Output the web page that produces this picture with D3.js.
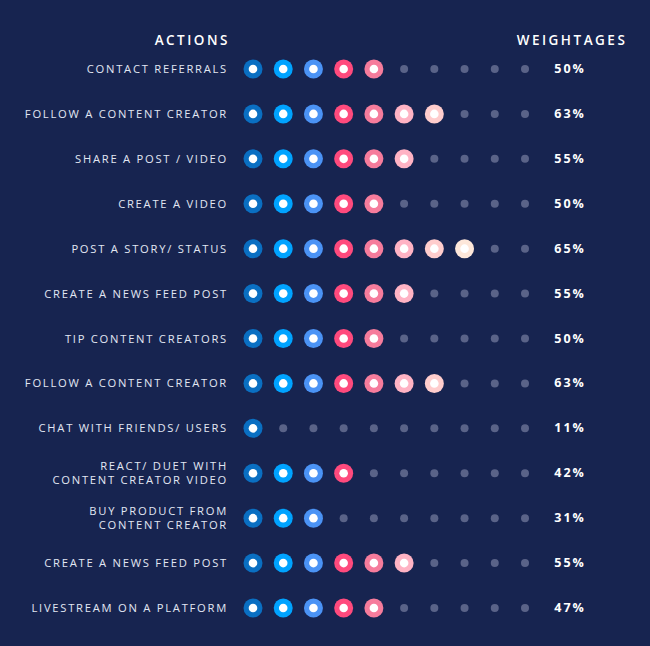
<!DOCTYPE html>
<html>
<head>
<meta charset="utf-8">
<script src="https://cdn.jsdelivr.net/npm/d3@7"></script>
<style>
  body { margin: 0; background: #172450; }
  svg { display: block; }
</style>
</head>
<body>
<script>
// data
const actions = [
  ["CONTACT REFERRALS"],
  ["FOLLOW A CONTENT CREATOR"],
  ["SHARE A POST / VIDEO"],
  ["CREATE A VIDEO"],
  ["POST A STORY/ STATUS"],
  ["CREATE A NEWS FEED POST"],
  ["TIP CONTENT CREATORS"],
  ["FOLLOW A CONTENT CREATOR"],
  ["CHAT WITH FRIENDS/ USERS"],
  ["REACT/ DUET WITH", "CONTENT CREATOR VIDEO"],
  ["BUY PRODUCT FROM", "CONTENT CREATOR"],
  ["CREATE A NEWS FEED POST"],
  ["LIVESTREAM ON A PLATFORM"]
];
const filledDots = [5, 7, 6, 5, 8, 6, 5, 7, 1, 4, 3, 6, 5];
const weightages = [50, 63, 55, 50, 65, 55, 50, 63, 11, 42, 31, 55, 47];
const dotSlots = d3.range(10);
const dotColors = ["#0a6fc2", "#00a3ff", "#4b93f5", "#ff4a7d", "#f67c9c", "#ffb3c4", "#ffcdcd", "#fde7da"];

const width = 650, height = 646;

const svg = d3.select("body").append("svg")
  .attr("width", width)
  .attr("height", height);

const y = d3.scalePoint()
  .domain(d3.range(actions.length))
  .range([69, 608]);

const x = d3.scalePoint()
  .domain(dotSlots)
  .range([253, 525]);

const font = "'Open Sans', sans-serif";

// headers
svg.append("text")
  .attr("x", 230).attr("y", 45)
  .attr("text-anchor", "end")
  .attr("fill", "#ffffff")
  .style("font-family", font)
  .style("font-size", "13.5px")
  .style("font-weight", 600)
  .style("letter-spacing", "2.5px")
  .text("ACTIONS");

svg.append("text")
  .attr("x", 572).attr("y", 45)
  .attr("text-anchor", "middle")
  .attr("fill", "#ffffff")
  .style("font-family", font)
  .style("font-size", "13.5px")
  .style("font-weight", 600)
  .style("letter-spacing", "2.5px")
  .text("WEIGHTAGES");

const rows = svg.selectAll("g.row")
  .data(actions.map((a, i) => ({ label: a, n: filledDots[i], w: weightages[i], i })))
  .enter().append("g")
  .attr("class", "row")
  .attr("transform", d => `translate(0, ${y(d.i)})`);

// labels
rows.append("text")
  .attr("x", 228)
  .attr("text-anchor", "end")
  .attr("fill", "#e2e7f3")
  .style("font-family", font)
  .style("font-size", "11.2px")
  .style("font-weight", 500)
  .style("letter-spacing", "1.75px")
  .selectAll("tspan")
  .data(d => d.label.map((t, k) => ({ t, k, len: d.label.length })))
  .enter().append("tspan")
  .attr("x", 228)
  .attr("y", d => (d.k - (d.len - 1) / 2) * 14 + 4)
  .text(d => d.t);

// dots
rows.selectAll("g.dot")
  .data(d => dotSlots.map(s => ({ s, on: s < d.n })))
  .enter().append("g")
  .attr("class", "dot")
  .attr("transform", d => `translate(${x(d.s)}, 0)`)
  .each(function (d) {
    const g = d3.select(this);
    if (d.on) {
      g.append("circle").attr("r", 9.5).attr("fill", dotColors[d.s]);
      g.append("circle").attr("r", 4.3).attr("fill", "#ffffff");
    } else {
      g.append("circle").attr("r", 4).attr("fill", "#5a6388");
    }
  });

// weightages
rows.append("text")
  .attr("x", 570)
  .attr("y", 4)
  .attr("text-anchor", "middle")
  .attr("fill", "#ffffff")
  .style("font-family", font)
  .style("font-size", "12.5px")
  .style("font-weight", 700)
  .style("letter-spacing", "1.9px")
  .text(d => d.w + "%");
</script>
</body>
</html>
